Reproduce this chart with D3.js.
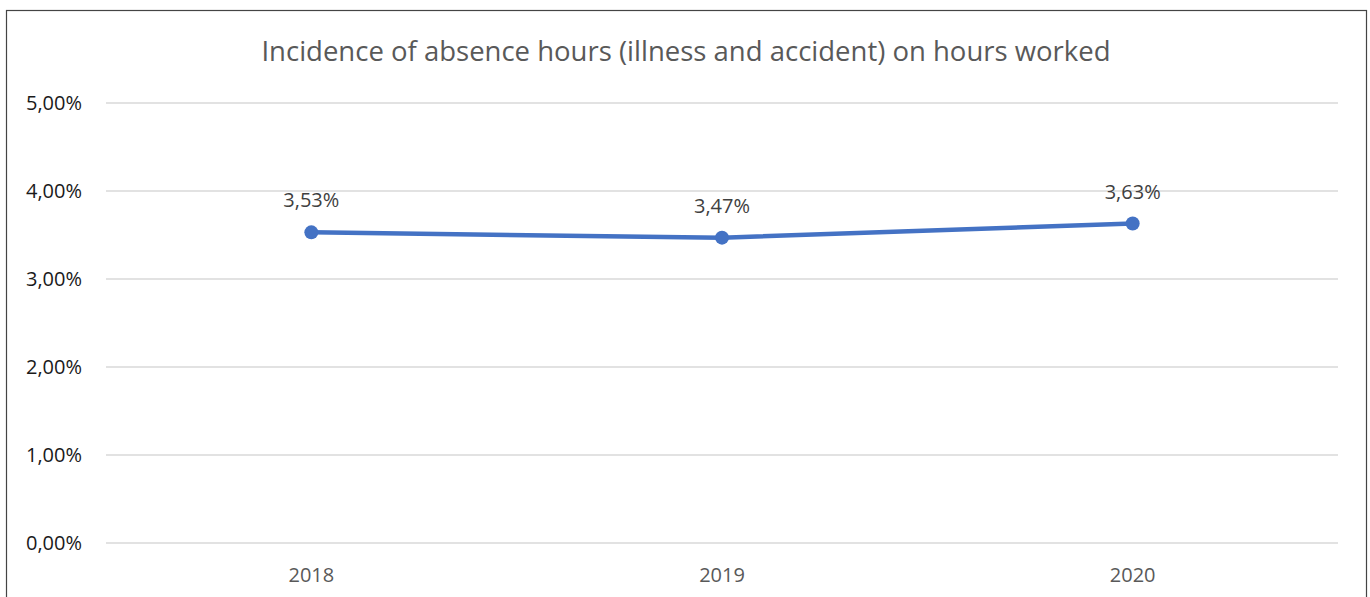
<!DOCTYPE html>
<html>
<head>
<meta charset="utf-8">
<script src="https://cdn.jsdelivr.net/npm/d3@7"></script>
<style>
    body { margin: 0; background: #fff; }
    svg { display: block; font-family: "Open Sans", "Liberation Sans", sans-serif; }
</style>
</head>
<body>
<div id="chart"></div>
<script>
// Chart data
const years = ["2018", "2019", "2020"];
const absenceRate = [3.53, 3.47, 3.63];
const yTicks = [0, 1, 2, 3, 4, 5];

const width = 1370;
const height = 597;
const plotLeft = 106;
const plotRight = 1338;
const plotTop = 103;
const plotBottom = 543;

const fmt = (v) => v.toFixed(2).replace(".", ",") + "%";

let svg = d3.select("#chart")
    .append("svg")
    .attr("width", width)
    .attr("height", height);

// Outer border of the chart area
svg.append("rect")
    .attr("x", 6.5)
    .attr("y", 10.5)
    .attr("width", 1360)
    .attr("height", 600)
    .attr("fill", "none")
    .attr("stroke", "#444")
    .attr("stroke-width", 1.2);

let x = d3.scalePoint()
    .domain(years)
    .range([plotLeft, plotRight])
    .padding(0.5);

let y = d3.scaleLinear()
    .domain([0, 5])
    .range([plotBottom, plotTop]);

// Gridlines
svg.selectAll("line.grid")
    .data(yTicks)
    .enter()
    .append("line")
    .attr("class", "grid")
    .attr("x1", plotLeft)
    .attr("x2", plotRight)
    .attr("y1", (d) => y(d))
    .attr("y2", (d) => y(d))
    .attr("stroke", "#d9d9d9")
    .attr("stroke-width", 1.5);

// Y axis labels
svg.selectAll("text.ytick")
    .data(yTicks)
    .enter()
    .append("text")
    .attr("class", "ytick")
    .attr("x", 82)
    .attr("y", (d) => y(d) + 7)
    .attr("text-anchor", "end")
    .attr("font-size", 20)
    .attr("fill", "#1a1a1a")
    .text((d) => fmt(d));

// X axis labels
svg.selectAll("text.xtick")
    .data(years)
    .enter()
    .append("text")
    .attr("class", "xtick")
    .attr("x", (d) => x(d))
    .attr("y", 582)
    .attr("text-anchor", "middle")
    .attr("font-size", 20)
    .attr("fill", "#595959")
    .text((d) => d);

// Title
svg.append("text")
    .attr("x", 686)
    .attr("y", 61)
    .attr("text-anchor", "middle")
    .attr("font-size", 27.5)
    .attr("fill", "#595959")
    .text("Incidence of absence hours (illness and accident) on hours worked");

let points = years.map((yr, i) => ({ year: yr, value: absenceRate[i] }));

// Line
let line = d3.line()
    .x((d) => x(d.year))
    .y((d) => y(d.value));

svg.append("path")
    .datum(points)
    .attr("d", line)
    .attr("fill", "none")
    .attr("stroke", "#4472c4")
    .attr("stroke-width", 4.5)
    .attr("stroke-linecap", "round");

// Markers
svg.selectAll("circle.marker")
    .data(points)
    .enter()
    .append("circle")
    .attr("class", "marker")
    .attr("cx", (d) => x(d.year))
    .attr("cy", (d) => y(d.value))
    .attr("r", 7)
    .attr("fill", "#4472c4");

// Data labels
svg.selectAll("text.label")
    .data(points)
    .enter()
    .append("text")
    .attr("class", "label")
    .attr("x", (d) => x(d.year))
    .attr("y", (d) => y(d.value) - 25)
    .attr("text-anchor", "middle")
    .attr("font-size", 20)
    .attr("fill", "#404040")
    .text((d) => fmt(d.value));
</script>
</body>
</html>
